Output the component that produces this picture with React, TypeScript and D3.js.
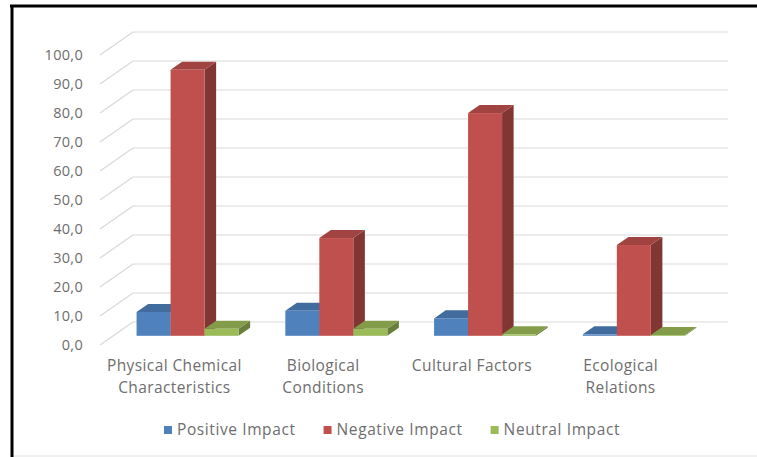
import React, { useEffect, useRef } from "react";
import * as d3 from "d3";

const categories = [
  "Physical Chemical Characteristics",
  "Biological Conditions",
  "Cultural Factors",
  "Ecological Relations",
];
const categoryLines = [
  ["Physical Chemical", "Characteristics"],
  ["Biological", "Conditions"],
  ["Cultural Factors"],
  ["Ecological", "Relations"],
];
const seriesNames = ["Positive Impact", "Negative Impact", "Neutral Impact"];
const positiveImpact = [8.2, 8.6, 6.0, 0.5];
const negativeImpact = [91.7, 33.7, 76.8, 31.3];
const neutralImpact = [2.4, 2.4, 0.5, 0.3];
const yTicks = [0, 10, 20, 30, 40, 50, 60, 70, 80, 90, 100];
const seriesColors = ["#4f81bd", "#c0504d", "#9bbb59"];

const W = 757;
const H = 457;

const App = () => {
  const svgRef = useRef<SVGSVGElement>(null);

  useEffect(() => {
    const svg = d3.select(svgRef.current);
    svg.selectAll("*").remove();

    const values = [positiveImpact, negativeImpact, neutralImpact];
    const font = "'Open Sans', sans-serif";
    const textColor = "#6e6e6e";

    // 3d depth: front plane -> back wall
    const DX = 33;
    const DY = -23;
    const f0 = 0.4; // bar front face depth
    const f1 = 0.75; // bar back face depth

    const x0 = d3.scaleBand().domain(categories).range([100, 695]);
    const x1 = d3
      .scaleBand()
      .domain(seriesNames)
      .range([0, x0.bandwidth()])
      .paddingOuter(0.6875);
    const y = d3.scaleLinear().domain([0, 100]).range([345, 55]);

    // frame
    svg.append("rect").attr("width", W).attr("height", H).attr("fill", "#fff");
    svg.append("line").attr("x1", 12).attr("x2", W).attr("y1", 456).attr("y2", 456)
      .attr("stroke", "#e2e2e2").attr("stroke-width", 1);
    svg.append("line").attr("x1", 10).attr("x2", W).attr("y1", 6).attr("y2", 6)
      .attr("stroke", "#000").attr("stroke-width", 3);
    svg.append("line").attr("x1", 12).attr("x2", 12).attr("y1", 5).attr("y2", H)
      .attr("stroke", "#000").attr("stroke-width", 3);

    // gridlines: back wall + left wall
    const grid = svg.append("g").attr("stroke", "#d9d9d9").attr("stroke-width", 1.2).attr("fill", "none");
    yTicks.forEach((t) => {
      const yb = y(t) + DY;
      grid.append("line").attr("x1", 100 + DX).attr("x2", 695 + DX).attr("y1", yb).attr("y2", yb);
      grid.append("line").attr("x1", 100).attr("x2", 100 + DX).attr("y1", y(t)).attr("y2", yb);
    });

    // y labels
    svg.append("g")
      .selectAll("text")
      .data(yTicks)
      .join("text")
      .attr("x", 83)
      .attr("y", (d) => y(d))
      .attr("dy", "0.35em")
      .attr("text-anchor", "end")
      .attr("font-family", font)
      .attr("font-size", 14.5)
      .attr("letter-spacing", 0.3)
      .attr("fill", textColor)
      .text((d) => d3.format(".1f")(d).replace(".", ","));

    // bars
    const pt = (xf: number, v: number, f: number) => [xf + f * DX, y(v) + f * DY];
    const poly = (pts: number[][]) => pts.map((p) => p.join(",")).join(" ");
    const bars = svg.append("g");
    categories.forEach((c, ci) => {
      seriesNames.forEach((s, si) => {
        const v = values[si][ci];
        const xl = (x0(c) as number) + (x1(s) as number);
        const xr = xl + x1.bandwidth();
        const base = d3.color(seriesColors[si]) as d3.RGBColor;
        // side
        bars.append("polygon")
          .attr("points", poly([pt(xr, 0, f0), pt(xr, 0, f1), pt(xr, v, f1), pt(xr, v, f0)]))
          .attr("fill", base.darker(1.1).toString());
        // top
        bars.append("polygon")
          .attr("points", poly([pt(xl, v, f0), pt(xr, v, f0), pt(xr, v, f1), pt(xl, v, f1)]))
          .attr("fill", base.darker(0.5).toString());
        // front
        const [fx, fy] = pt(xl, v, f0);
        const [, fb] = pt(xl, 0, f0);
        bars.append("rect")
          .attr("x", fx)
          .attr("y", fy)
          .attr("width", x1.bandwidth())
          .attr("height", fb - fy)
          .attr("fill", seriesColors[si]);
      });
    });

    // category labels
    const cat = svg.append("g")
      .attr("font-family", font)
      .attr("font-size", 15.5)
      .attr("letter-spacing", 0.4)
      .attr("fill", textColor)
      .attr("text-anchor", "middle");
    categories.forEach((c, ci) => {
      const cx = (x0(c) as number) + x0.bandwidth() / 2;
      categoryLines[ci].forEach((line, li) => {
        cat.append("text")
          .attr("x", cx)
          .attr("y", 366 + li * 22)
          .attr("dy", "0.35em")
          .text(line);
      });
    });

    // legend
    const legend = svg.append("g")
      .attr("font-family", font)
      .attr("font-size", 15.5)
      .attr("letter-spacing", 0.6)
      .attr("fill", textColor);
    const items = seriesNames.map((s, si) => {
      const g = legend.append("g");
      g.append("rect").attr("width", 8).attr("height", 8).attr("y", -4).attr("fill", seriesColors[si]);
      const t = g.append("text").attr("x", 13).attr("dy", "0.35em").text(s);
      const w = 13 + (t.node() as SVGTextElement).getComputedTextLength();
      return { g, w };
    });
    const gap = 28;
    const total = d3.sum(items, (d) => d.w) + gap * (items.length - 1);
    let lx = 392 - total / 2;
    items.forEach((it) => {
      it.g.attr("transform", `translate(${lx},430)`);
      lx += it.w + gap;
    });
  }, []);

  return (
    <svg
      ref={svgRef}
      width={W}
      height={H}
      style={{ position: "absolute", left: 0, top: 0, display: "block" }}
    ></svg>
  );
};

export default App;
